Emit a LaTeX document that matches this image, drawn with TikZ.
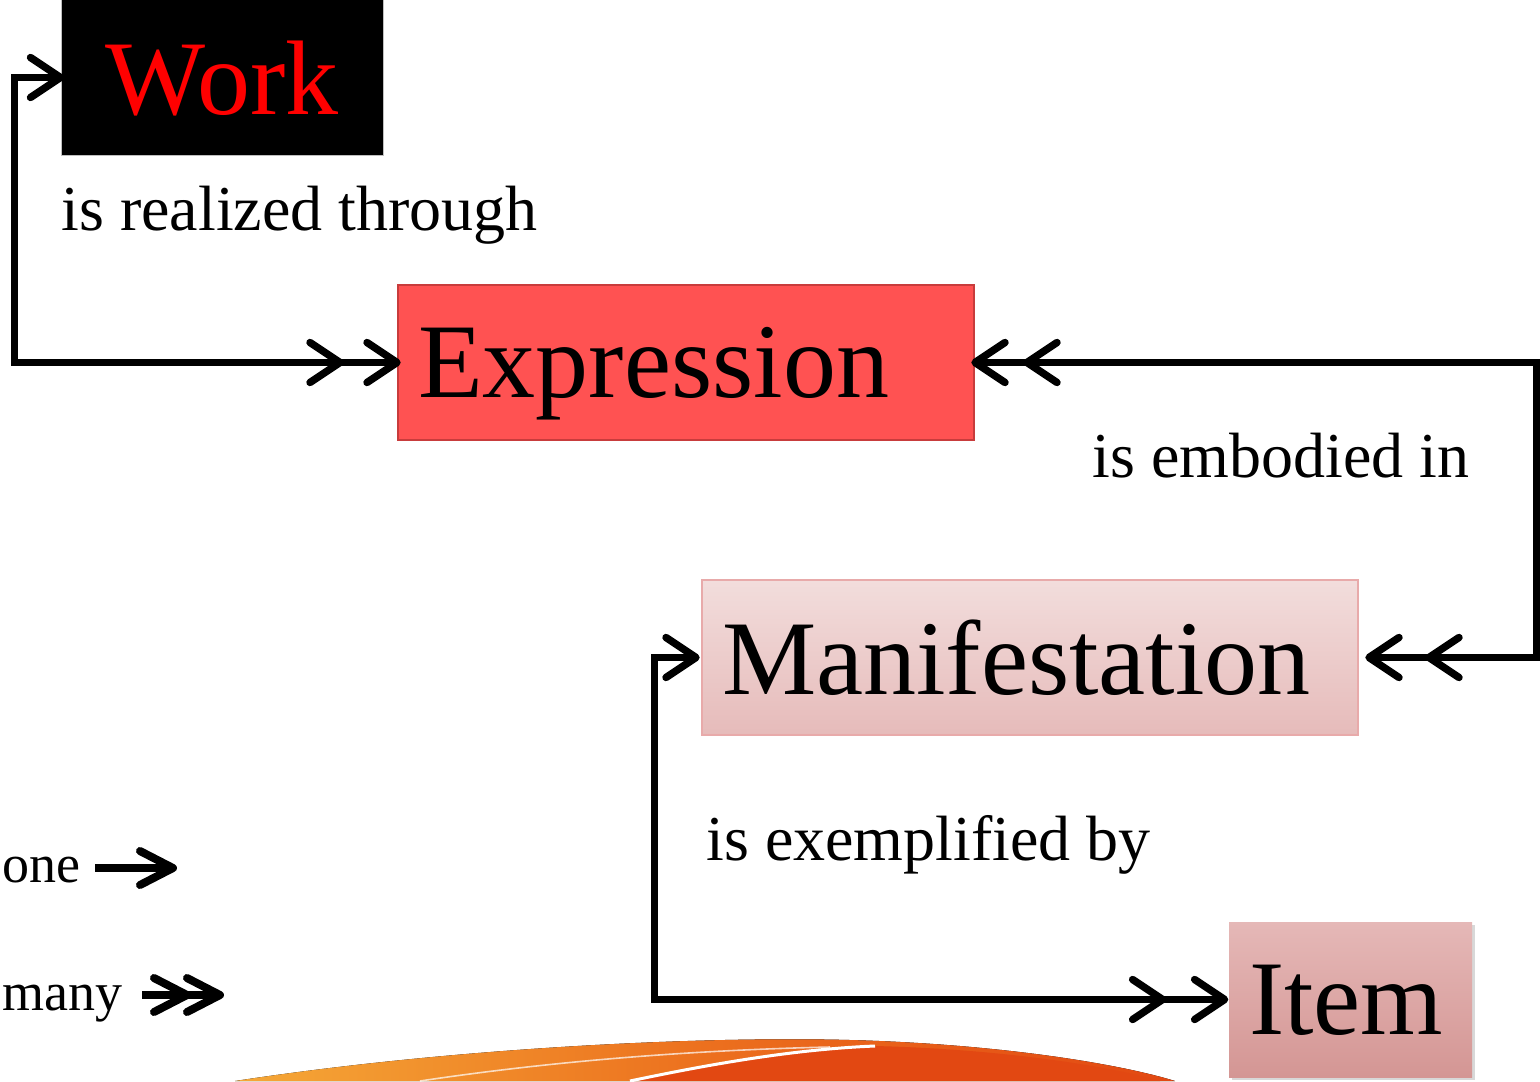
\documentclass[tikz,border=0pt]{standalone}
\usepackage{fontspec}
\setmainfont{Liberation Serif}
\usetikzlibrary{shadows}
\definecolor{workred}{RGB}{255,0,0}
\definecolor{exprfill}{RGB}{255,82,82}
\definecolor{exprdraw}{RGB}{200,60,60}
\definecolor{mantop}{RGB}{242,221,220}
\definecolor{manbot}{RGB}{230,187,186}
\definecolor{mandraw}{RGB}{232,170,170}
\definecolor{itemtop}{RGB}{229,184,183}
\definecolor{itembot}{RGB}{212,150,148}
\definecolor{swA}{RGB}{245,168,55}
\definecolor{swB}{RGB}{236,112,30}
\definecolor{swC}{RGB}{226,72,18}
\tikzset{
  bigfont/.style={font=\fontsize{53pt}{60pt}\selectfont},
  labelfont/.style={font=\fontsize{32pt}{38pt}\selectfont, anchor=base west, inner sep=0pt},
  legfont/.style={font=\fontsize{27pt}{32pt}\selectfont, anchor=base west, inner sep=0pt},
  box/.style={rectangle, bigfont, minimum height=77.5pt, text depth=0pt, inner ysep=0pt, align=left, inner xsep=10pt},
  conn/.style={line width=3.5pt, line join=miter, line cap=butt},
  legconn/.style={line width=4pt, line cap=butt},
  chev/.pic={\draw[line width=3.7pt, line cap=round, line join=round] (-30,-20) -- (0,0) -- (-30,20);},
  legchev/.pic={\draw[line width=4pt, line cap=round, line join=round] (-33,-17) -- (0,0) -- (-33,17);},
}
\begin{document}
\begin{tikzpicture}[x=0.5pt, y=-0.5pt]
\useasboundingbox (0,0) rectangle (1540,1081);
\fill[white] (0,0) rectangle (1540,1081);
% decorative swoosh
\begin{scope}
\clip (0,0) rectangle (1540,1081);
\fill[left color=swA, right color=swC, middle color=swB] (235,1081) .. controls (450,1048) and (700,1036) .. (850,1040) .. controls (1000,1044) and (1120,1064) .. (1175,1081) -- cycle;
\fill[swC] (630,1081) .. controls (720,1062) and (800,1049) .. (875,1046) .. controls (1000,1049) and (1110,1066) .. (1160,1081) -- cycle;
\draw[white, line width=1.5pt] (630,1081) .. controls (720,1062) and (800,1049) .. (875,1046);
\draw[white, line width=0.8pt, opacity=0.7] (420,1081) .. controls (560,1060) and (700,1050) .. (830,1047);
\end{scope}
% entity boxes
\node[box, fill=black, draw=gray!50, line width=0.5pt, text=workred, text width=141pt, align=center] (work) at (222,77.5) {Work};
\node[box, fill=exprfill, draw=exprdraw, line width=1pt, text width=268pt] (expr) at (686,362.5) {Expression};
\node[box, top color=mantop, bottom color=manbot, draw=mandraw, line width=1pt, text width=308pt] (manif) at (1030,657.5) {Manifestation};
\node[box, top color=itemtop, bottom color=itembot, drop shadow={shadow xshift=1.5pt, shadow yshift=-1.5pt, fill=gray!60}, text width=101.5pt] (item) at (1350.5,999.5) {Item};
% labels
\node[labelfont] (lrealized) at (61,230) {is realized through};
\node[labelfont] (lembodied) at (1092,477) {is embodied in};
\node[labelfont] (lexempl) at (706,860) {is exemplified by};
% connector Work -> Expression
\coordinate (wl) at (14,362.5);
\draw[conn] (work.west) -| (wl) -- (expr.west);
\pic at (work.west) {chev};
\pic at (expr.west) {chev};
\pic at ([xshift=-28.5pt]expr.west) {chev};
% connector Expression <-> Manifestation
\coordinate (er) at (1536,657.5);
\coordinate (me) at ([xshift=5pt]manif.east);
\draw[conn] (expr.east) -| (er) -- (me);
\pic[rotate=180] at (expr.east) {chev};
\pic[rotate=180] at ([xshift=26pt]expr.east) {chev};
\pic[rotate=180] at (me) {chev};
\pic[rotate=180] at ([xshift=30pt]me) {chev};
% connector Manifestation -> Item
\coordinate (mw) at ([xshift=-2.5pt]manif.west);
\coordinate (ml) at (654,999.5);
\coordinate (iw) at ([xshift=-2pt]item.west);
\draw[conn] (mw) -| (ml) -- (iw);
\pic at (mw) {chev};
\pic at (iw) {chev};
\pic at ([xshift=-31pt]iw) {chev};
% legend
\node[legfont] (one) at (2,882) {one};
\coordinate (oa) at (95,868);
\coordinate (ob) at (173,868);
\draw[legconn] (oa) -- (ob);
\pic at (ob) {legchev};
\node[legfont] (many) at (2,1010) {many};
\coordinate (ma) at (142,995);
\coordinate (mb) at (220,995);
\draw[legconn] (ma) -- (mb);
\pic at (mb) {legchev};
\pic at ([xshift=-16.5pt]mb) {legchev};
\end{tikzpicture}
\end{document}
